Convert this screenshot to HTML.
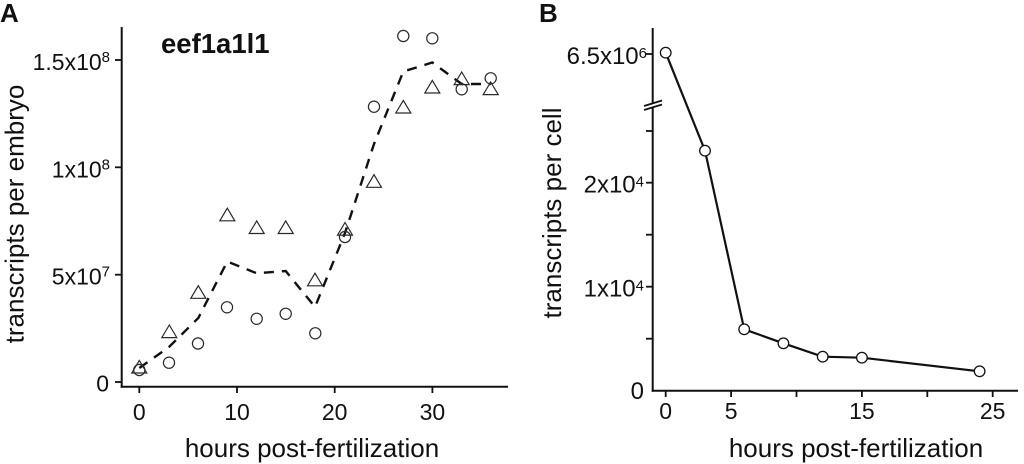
<!DOCTYPE html>
<html>
<head>
<meta charset="utf-8">
<style>
  html, body { margin:0; padding:0; background:#fff; }
  svg { display:block; }
  text { font-family: "Liberation Sans", Arial, sans-serif; fill:#111; }
</style>
</head>
<body>
<svg width="1024" height="464" viewBox="0 0 1024 464" xmlns="http://www.w3.org/2000/svg">
  <rect x="0" y="0" width="1024" height="464" fill="#fff"/>

  <!-- Panel labels -->
  <text x="0" y="22" font-size="26" font-weight="bold">A</text>
  <text x="539" y="22" font-size="26" font-weight="bold">B</text>

  <!-- ================= Panel A ================= -->
  <line x1="121.7" y1="27" x2="121.7" y2="387.7" stroke="#111" stroke-width="2"/>
  <line x1="120.7" y1="386.7" x2="508" y2="386.7" stroke="#111" stroke-width="2"/>
  <g stroke="#111" stroke-width="1.8">
    <line x1="115" y1="60" x2="121.7" y2="60"/>
    <line x1="115" y1="167.3" x2="121.7" y2="167.3"/>
    <line x1="115" y1="274.7" x2="121.7" y2="274.7"/>
    <line x1="115" y1="382" x2="121.7" y2="382"/>
  </g>
  <g stroke="#111" stroke-width="1.8">
    <line x1="139.3" y1="386.7" x2="139.3" y2="393"/>
    <line x1="237" y1="386.7" x2="237" y2="393"/>
    <line x1="334.7" y1="386.7" x2="334.7" y2="393"/>
    <line x1="432.4" y1="386.7" x2="432.4" y2="393"/>
  </g>
  <g font-size="23" text-anchor="end">
    <text x="110" y="70">1.5x10<tspan font-size="15" dy="-8">8</tspan></text>
    <text x="110" y="177.3">1x10<tspan font-size="15" dy="-8">8</tspan></text>
    <text x="110" y="284.7">5x10<tspan font-size="15" dy="-8">7</tspan></text>
    <text x="109" y="391.5">0</text>
  </g>
  <g font-size="23" text-anchor="middle">
    <text x="139.3" y="420">0</text>
    <text x="237" y="420">10</text>
    <text x="334.7" y="420">20</text>
    <text x="432.4" y="420">30</text>
  </g>
  <text x="312" y="457" font-size="26" text-anchor="middle">hours post-fertilization</text>
  <text transform="translate(23.5,214) rotate(-90)" font-size="26" text-anchor="middle">transcripts per embryo</text>
  <text x="161" y="53" font-size="27.5" font-weight="bold">eef1a1l1</text>

  <polyline fill="none" stroke="#111" stroke-width="2.4" stroke-dasharray="10 8"
    points="139.3,368 169,347 198.3,318 227.3,261.5 256.7,273.3 285.7,271 315,307 345,233 374,144 403.3,71.5 432.3,62.5 461.7,84 490.7,84"/>

  <g fill="none" stroke="#2a2a2a" stroke-width="1.2">
    <circle cx="139.3" cy="370" r="5.6"/>
    <circle cx="169" cy="362.7" r="5.6"/>
    <circle cx="198" cy="343.5" r="5.6"/>
    <circle cx="227" cy="307.3" r="5.6"/>
    <circle cx="256.7" cy="318.8" r="5.6"/>
    <circle cx="285.7" cy="313.8" r="5.6"/>
    <circle cx="315.3" cy="333.3" r="5.6"/>
    <circle cx="345" cy="237" r="5.6"/>
    <circle cx="374" cy="106.7" r="5.6"/>
    <circle cx="403.3" cy="36" r="5.6"/>
    <circle cx="432.3" cy="38.3" r="5.6"/>
    <circle cx="461.7" cy="89.3" r="5.6"/>
    <circle cx="490.7" cy="78.3" r="5.6"/>
  </g>
  <g fill="none" stroke="#2a2a2a" stroke-width="1.2" stroke-linejoin="miter">
    <polygon points="131.8,373 146.8,373 139.3,360.4"/>
    <polygon points="161.8,337.6 176.8,337.6 169.3,325"/>
    <polygon points="190.8,298.3 205.8,298.3 198.3,285.7"/>
    <polygon points="219.8,220.8 234.8,220.8 227.3,208.2"/>
    <polygon points="249.2,233.5 264.2,233.5 256.7,220.9"/>
    <polygon points="278.2,233.5 293.2,233.5 285.7,220.9"/>
    <polygon points="307.5,285.8 322.5,285.8 315,273.2"/>
    <polygon points="337.5,235.1 352.5,235.1 345,222.5"/>
    <polygon points="366.5,187.3 381.5,187.3 374,174.7"/>
    <polygon points="395.8,113 410.8,113 403.3,100.4"/>
    <polygon points="424.8,93 439.8,93 432.3,80.4"/>
    <polygon points="454.2,84.6 469.2,84.6 461.7,72"/>
    <polygon points="483.2,94.6 498.2,94.6 490.7,82"/>
  </g>

  <!-- ================= Panel B ================= -->
  <line x1="652.7" y1="28" x2="652.7" y2="391.7" stroke="#111" stroke-width="2"/>
  <line x1="651.7" y1="390.7" x2="1018" y2="390.7" stroke="#111" stroke-width="2"/>
  <polygon points="644,106.5 662,101 662,104.5 644,110" fill="#fff" stroke="none"/>
  <line x1="644" y1="106" x2="662" y2="100.5" stroke="#111" stroke-width="1.8"/>
  <line x1="644" y1="110" x2="662" y2="104.5" stroke="#111" stroke-width="1.8"/>
  <g stroke="#111" stroke-width="1.8">
    <line x1="646" y1="54" x2="652.7" y2="54"/>
    <line x1="646" y1="131" x2="652.7" y2="131"/>
    <line x1="646" y1="182.7" x2="652.7" y2="182.7"/>
    <line x1="646" y1="234.7" x2="652.7" y2="234.7"/>
    <line x1="646" y1="286.7" x2="652.7" y2="286.7"/>
    <line x1="646" y1="338.7" x2="652.7" y2="338.7"/>
  </g>
  <g stroke="#111" stroke-width="1.8">
    <line x1="665.7" y1="390.7" x2="665.7" y2="397"/>
    <line x1="731.1" y1="390.7" x2="731.1" y2="397"/>
    <line x1="796.5" y1="390.7" x2="796.5" y2="397"/>
    <line x1="861.9" y1="390.7" x2="861.9" y2="397"/>
    <line x1="927.3" y1="390.7" x2="927.3" y2="397"/>
    <line x1="992.7" y1="390.7" x2="992.7" y2="397"/>
  </g>
  <g font-size="24" text-anchor="end">
    <text x="647" y="64">6.5x10<tspan font-size="15" dy="-6">6</tspan></text>
    <text x="644" y="192.7">2x10<tspan font-size="15" dy="-6">4</tspan></text>
    <text x="644" y="296.7">1x10<tspan font-size="15" dy="-6">4</tspan></text>
    <text x="644" y="399">0</text>
  </g>
  <g font-size="23" text-anchor="middle">
    <text x="665.7" y="419">0</text>
    <text x="731.1" y="419">5</text>
    <text x="861.9" y="419">15</text>
    <text x="992.7" y="419">25</text>
  </g>
  <text x="856" y="457" font-size="26" text-anchor="middle">hours post-fertilization</text>
  <text transform="translate(561,213) rotate(-90)" font-size="26" text-anchor="middle">transcripts per cell</text>

  <polyline fill="none" stroke="#111" stroke-width="2.2" stroke-linejoin="round"
    points="665.7,52.7 705,150.7 744.2,329.3 783.4,343.3 822.7,356.7 861.9,357.7 979.6,371.3"/>
  <g fill="#fff" stroke="#111" stroke-width="1.3">
    <circle cx="665.7" cy="52.7" r="5.3"/>
    <circle cx="705" cy="150.7" r="5.3"/>
    <circle cx="744.2" cy="329.3" r="5.3"/>
    <circle cx="783.4" cy="343.3" r="5.3"/>
    <circle cx="822.7" cy="356.7" r="5.3"/>
    <circle cx="861.9" cy="357.7" r="5.3"/>
    <circle cx="979.6" cy="371.3" r="5.3"/>
  </g>
</svg>
</body>
</html>
